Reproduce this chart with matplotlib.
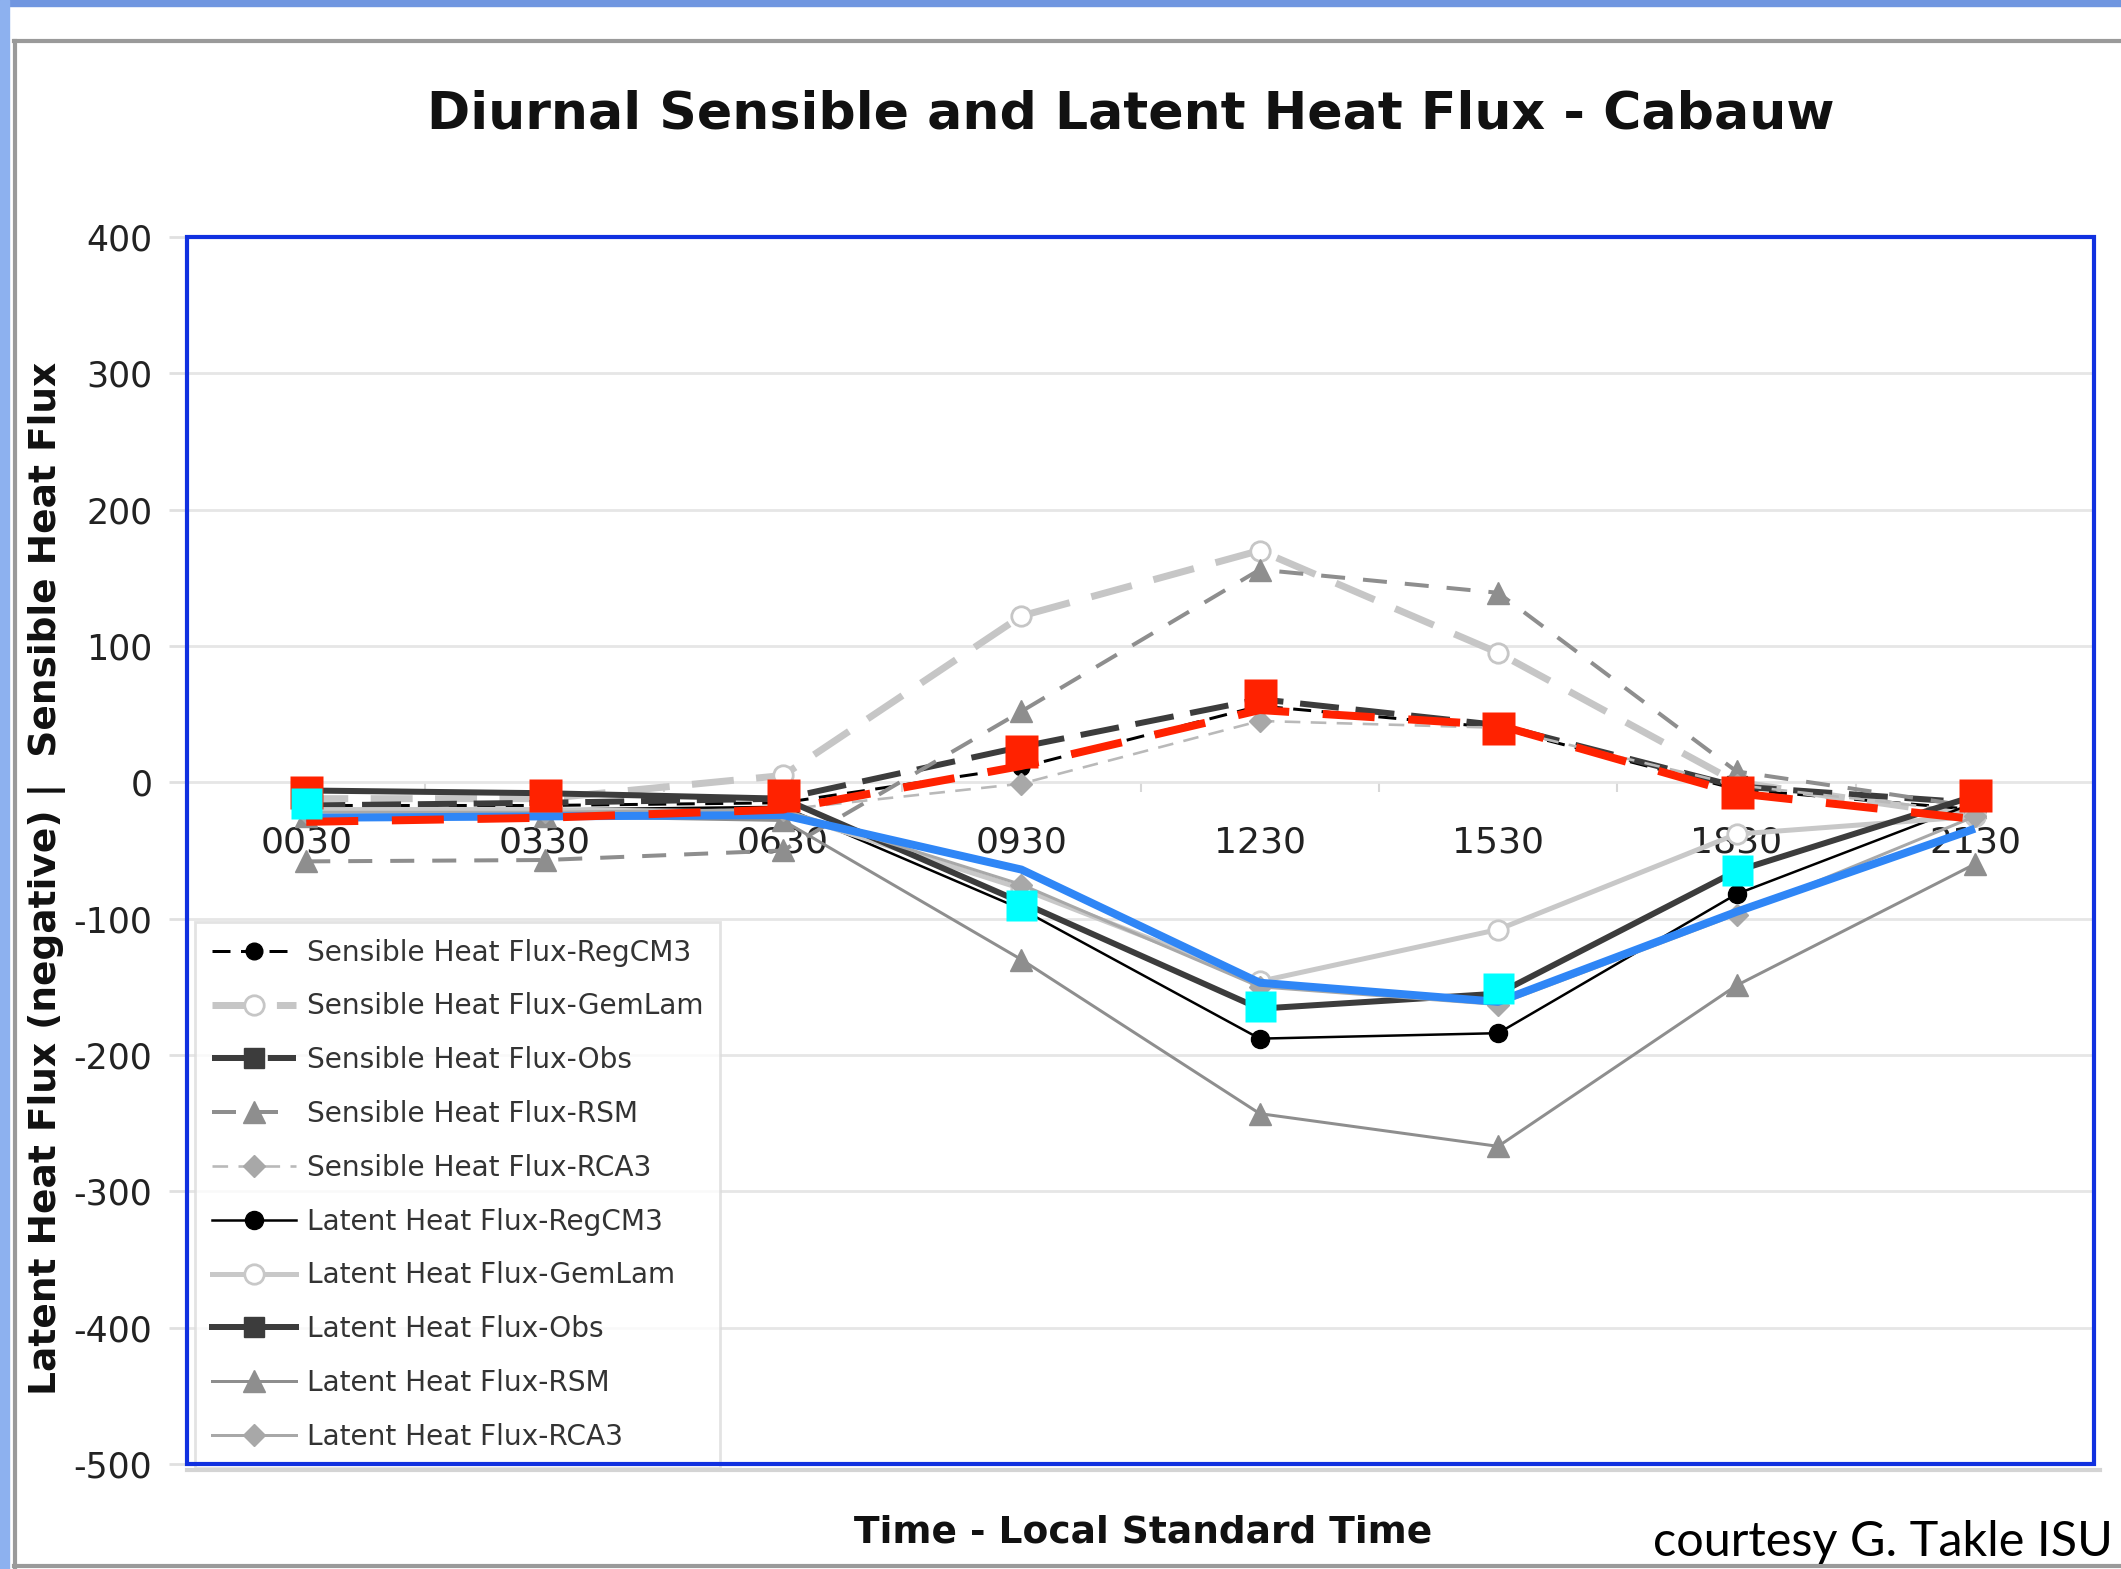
import numpy as np
import matplotlib
matplotlib.use("Agg")
import matplotlib.pyplot as plt
from matplotlib.patches import Rectangle
from matplotlib.lines import Line2D

# ---------------- data ----------------
times = ["0030", "0330", "0630", "0930", "1230", "1530", "1830", "2130"]

sens_regcm3 = [-17, -17, -15, 11, 56, 40, -5, -20]
sens_gemlam = [-12, -12, 5, 122, 170, 95, 0, -25]
sens_obs = [-17, -15, -12, 26, 61, 42, -3, -15]
sens_rsm = [-58, -57, -50, 52, 156, 139, 8, -18]
sens_rca3 = [-20, -20, -20, -1, 45, 40, -2, -22]

lat_regcm3 = [-20, -20, -18, -93, -188, -184, -82, -15]
lat_gemlam = [-20, -20, -22, -78, -146, -108, -38, -25]
lat_obs = [-6, -8, -12, -88, -166, -155, -65, -10]
lat_rsm = [-25, -25, -28, -130, -243, -267, -149, -60]
lat_rca3 = [-22, -22, -20, -75, -150, -163, -97, -25]

# hand-drawn overlay (red = sensible, blue/cyan = latent)
red_line = [-29, -26, -20, 12, 53, 42, -8, -27]
red_marks = [-7, -9, -9, 23, 64, 40, -7, -9]
blue_line = [-26, -25, -24, -64, -147, -161, -95, -34]
cyan_marks = [-15, np.nan, np.nan, -90, -164, -151, -64, np.nan]

yticks = [400, 300, 200, 100, 0, -100, -200, -300, -400, -500]

title = "Diurnal Sensible and Latent Heat Flux - Cabauw"
xlabel = "Time - Local Standard Time"
ylabel = "Latent Heat Flux (negative) |  Sensible Heat Flux"
credit = "courtesy G. Takle ISU"

# ---------------- figure ----------------
W, H = 2121, 1569
fig = plt.figure(figsize=(W / 100, H / 100), dpi=100)
fig.patch.set_facecolor("white")

# slide decorations
fig.patches.append(Rectangle((0, 1 - 6 / H), 1, 6 / H, transform=fig.transFigure,
                             color="#7096e0", zorder=0))
fig.patches.append(Rectangle((0, 0), 9 / W, 1, transform=fig.transFigure,
                             color="#8db1ef", zorder=0))
fig.lines.append(Line2D([14 / W, 1], [1 - 41 / H, 1 - 41 / H], transform=fig.transFigure,
                        color="#9a9a9a", lw=3))
fig.lines.append(Line2D([15 / W, 15 / W], [0, 1 - 41 / H], transform=fig.transFigure,
                        color="#9a9a9a", lw=3))
fig.lines.append(Line2D([14 / W, 1], [3 / H, 3 / H], transform=fig.transFigure,
                        color="#9a9a9a", lw=3))

ax = fig.add_axes([0.0882, 0.0669, 0.8991, 0.7821])
x = np.arange(len(times))

def px(p):
    return p * 72 / 100.0

series = [
    (sens_regcm3, "Sensible Heat Flux-RegCM3", dict(color="black", lw=px(3), dashes=(6, 3.5),
                                                     marker="o", ms=12, mfc="black", mec="black")),
    (sens_gemlam, "Sensible Heat Flux-GemLam", dict(color="#c6c6c6", lw=px(7), dashes=(6, 3.2),
                                                     marker="o", ms=14, mfc="white", mec="#c6c6c6", mew=2)),
    (sens_obs, "Sensible Heat Flux-Obs", dict(color="#3c3c3c", lw=px(6), dashes=(6.5, 2.8),
                                               marker="s", ms=14, mfc="#3c3c3c", mec="#3c3c3c")),
    (sens_rsm, "Sensible Heat Flux-RSM", dict(color="#8e8e8e", lw=px(4), dashes=(6, 4.5),
                                               marker="^", ms=16, mfc="#8e8e8e", mec="#8e8e8e")),
    (sens_rca3, "Sensible Heat Flux-RCA3", dict(color="#b9b9b9", lw=px(2.6), dashes=(6, 4),
                                                 marker="D", ms=11, mfc="#a8a8a8", mec="#a8a8a8")),
    (lat_regcm3, "Latent Heat Flux-RegCM3", dict(color="black", lw=px(2.5),
                                                  marker="o", ms=13, mfc="black", mec="black")),
    (lat_gemlam, "Latent Heat Flux-GemLam", dict(color="#c8c8c8", lw=px(5),
                                                  marker="o", ms=14, mfc="white", mec="#c8c8c8", mew=2)),
    (lat_obs, "Latent Heat Flux-Obs", dict(color="#3c3c3c", lw=px(6),
                                            marker="s", ms=14, mfc="#3c3c3c", mec="#3c3c3c")),
    (lat_rsm, "Latent Heat Flux-RSM", dict(color="#8e8e8e", lw=px(3),
                                            marker="^", ms=16, mfc="#8e8e8e", mec="#8e8e8e")),
    (lat_rca3, "Latent Heat Flux-RCA3", dict(color="#a8a8a8", lw=px(3),
                                              marker="D", ms=11, mfc="#a8a8a8", mec="#a8a8a8")),
]

handles = []
for vals, label, kw in series:
    h, = ax.plot(x, vals, label=label, zorder=3, **kw)
    handles.append(h)

# overlay
ax.plot(x, blue_line, color="#2f86f6", lw=px(8), zorder=5, solid_capstyle="butt")
ax.plot(x, red_line, color="#ff2200", lw=px(8), dashes=(6.5, 4.2), zorder=6)
ax.plot(x, red_marks, ls="none", marker="s", ms=px(33), mfc="#ff2200", mec="none", zorder=7)
ax.plot(x, cyan_marks, ls="none", marker="s", ms=px(31), mfc="#00ffff", mec="none", zorder=8)

# axes styling
ax.set_xlim(-0.5, len(times) - 0.5)
ax.set_ylim(-500, 400)
ax.set_yticks(yticks)
ax.set_yticklabels([str(v) for v in yticks], fontsize=25, color="#222222")
ax.yaxis.grid(True, color="#e6e6e6", lw=2)
ax.set_axisbelow(True)
ax.tick_params(axis="y", length=13, width=2, color="#e0e0e0", pad=12)

for s in ax.spines.values():
    s.set_color("none")
ax.spines["bottom"].set_position(("data", 0))
ax.set_xticks(x)
ax.set_xticklabels(times, fontsize=26, color="#222222")
ax.set_xticks(x[:-1] + 0.5, minor=True)
ax.tick_params(axis="x", which="major", length=0, pad=31)
ax.tick_params(axis="x", which="minor", length=7, width=1.5, color="#d8d8d8", direction="out")

# light shadow under the plot frame, then the blue frame
ax.add_line(Line2D([0.0, 1.003], [-0.005, -0.005], transform=ax.transAxes,
                   color="#d4d4d4", lw=3, zorder=9.5, clip_on=False))
ax.add_patch(Rectangle((0, 0), 1, 1, transform=ax.transAxes, fill=False,
                       edgecolor="#1030e0", lw=3, zorder=10, clip_on=False))

leg = ax.legend(handles=handles, loc="lower left", bbox_to_anchor=(0.004, -0.003),
                fontsize=20.2, frameon=True, fancybox=False, numpoints=1,
                handlelength=3.0, handletextpad=0.4, labelspacing=0.92,
                borderpad=0.6, borderaxespad=0.0)
leg.get_frame().set_edgecolor("#dcdcdc")
leg.get_frame().set_linewidth(2)
for t in leg.get_texts():
    t.set_color("#333333")
leg.set_zorder(9)

fig.text(0.533, 0.927, title, ha="center", va="center", fontsize=37.5, fontweight="bold",
         color="#111111")
fig.text(0.539, 0.023, xlabel, ha="center", va="center", fontsize=27, fontweight="bold",
         color="#111111")
fig.text(0.022, 0.44, ylabel, ha="center", va="center", rotation=90, fontsize=27,
         fontweight="bold", color="#111111")
fig.text(0.996, 0.017, credit, ha="right", va="center", fontsize=35, family="Lato",
         color="black")

fig.savefig("out.png", dpi=100)
